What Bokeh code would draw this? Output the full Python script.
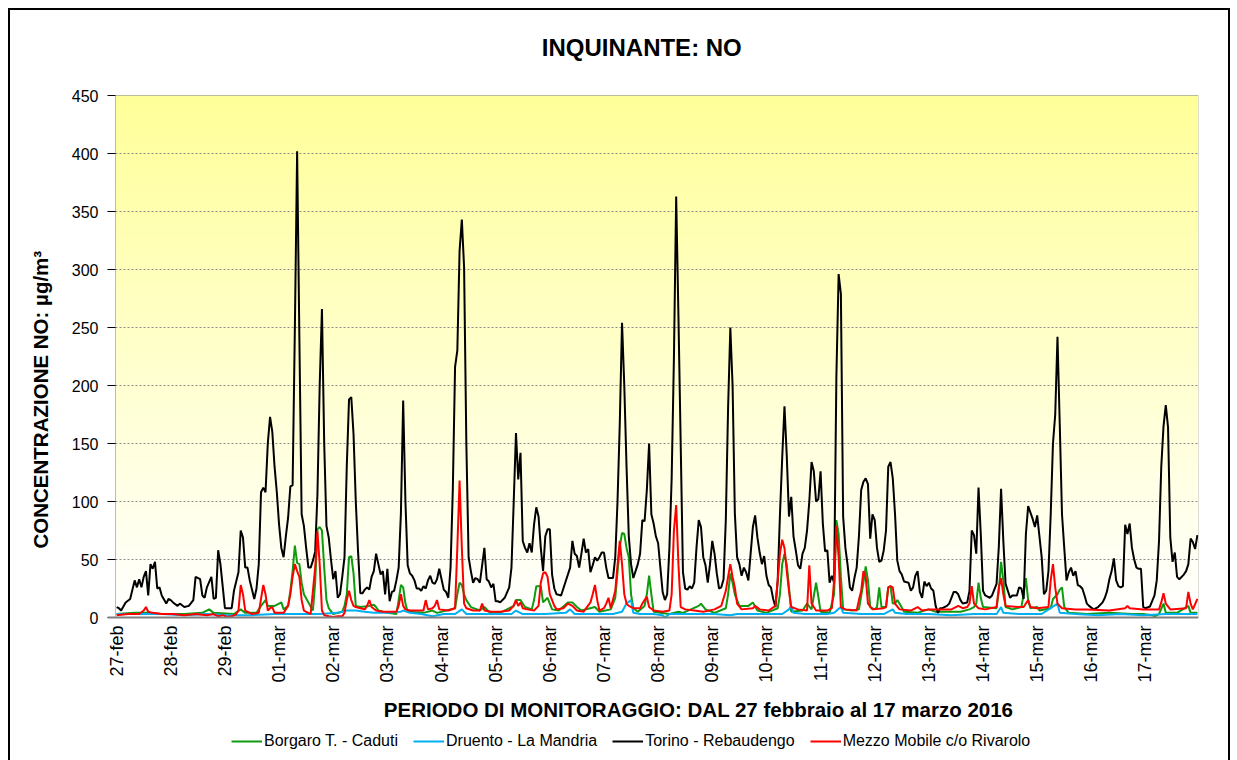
import numpy as np
from bokeh.plotting import figure
from bokeh.models import Legend, LegendItem, FixedTicker, Title, Label, Span, BoxAnnotation
from bokeh.core.properties import value
from bokeh.embed import file_html
from bokeh.resources import INLINE

# ---------------- data ----------------
day_labels = ["27-feb", "28-feb", "29-feb", "01-mar", "02-mar", "03-mar", "04-mar",
              "05-mar", "06-mar", "07-mar", "08-mar", "09-mar", "10-mar", "11-mar",
              "12-mar", "13-mar", "14-mar", "15-mar", "16-mar", "17-mar"]
hours_per_day = 24
n_hours = 480
y_ticks = [0, 50, 100, 150, 200, 250, 300, 350, 400, 450]

torino_h = [0,1,2,4,6,8,9,10,11,12,13,14,15,16,17,18,19,20,22,23,24,25,27,28,30,32,34,35,37,38,39,40,42,43,44,45,46,48,50,51,52,54,55,56,57,58,59,61,62,63,64,65,66,67,68,69,70,71,72,73,74,75,76,77,78,79,80,81,82,83,84,85,86,87,88,89,90,91,92,93,94,95,96,97,98,99,100,101,102,103,104,105,106,107,108,109,110,111,112,113,114,115,116,117,118,119,120,121,122,123,124,125,126,127,128,129,130,131,132,133,134,135,136,137,138,139,140,141,142,143,144,145,146,147,148,149,150,151,152,153,154,155,156,157,158,159,160,161,162,163,164,165,166,167,168,169,170,172,174,175,176,177,178,179,180,181,182,183,184,185,186,187,188,189,190,191,192,193,194,195,197,199,201,202,203,204,205,206,207,208,209,210,211,212,213,214,215,216,217,218,220,221,222,223,224,225,226,227,228,229,230,231,232,233,234,235,236,237,238,239,240,241,242,243,244,245,246,247,248,249,250,251,252,253,254,255,256,257,258,259,260,261,262,263,264,265,266,267,268,269,270,271,272,273,274,275,276,277,278,279,280,281,282,283,284,285,286,287,288,289,290,291,292,293,294,295,296,297,298,299,300,301,302,303,304,305,306,307,308,309,310,311,312,313,314,315,316,317,318,319,320,321,322,323,324,325,326,327,328,329,330,331,332,333,334,335,336,337,338,339,340,341,342,343,344,345,346,347,348,349,351,352,353,354,355,356,357,358,359,360,361,362,363,364,365,366,368,369,370,371,372,373,374,375,377,378,379,380,381,382,383,384,385,387,388,390,391,392,393,394,396,397,399,400,401,402,403,404,406,407,408,410,411,412,413,414,415,416,417,418,419,420,421,422,423,424,425,426,427,428,429,430,431,433,435,437,438,439,440,441,442,443,444,445,446,447,448,449,450,451,452,453,454,455,456,458,460,461,462,463,464,465,466,467,468,469,470,471,473,474,475,476,477,478,479]
torino_v = [9,8,6,13,16,32,26,33,26,35,40,19,46,42,48,25,26,19,12,16,15,13,10,12,9,10,15,35,33,19,17,26,35,16,17,58,46,8,8,8,23,39,75,69,43,43,32,16,25,46,108,112,108,150,173,160,130,108,80,60,52,70,86,113,114,250,402,240,89,79,60,43,43,49,57,106,200,266,150,79,69,50,33,40,17,20,35,52,130,188,190,158,100,57,21,21,24,26,24,35,40,55,46,37,40,20,42,14,22,23,32,43,90,187,100,45,38,36,32,25,25,23,27,25,32,36,30,29,33,42,33,24,22,17,43,110,216,230,316,343,302,150,52,40,30,34,33,30,45,60,33,31,26,29,14,14,13,17,26,43,100,159,119,142,66,60,56,64,56,80,95,87,60,40,70,76,76,37,25,20,19,31,43,66,55,53,43,55,68,56,59,39,45,52,49,52,56,56,43,34,34,52,100,167,254,200,130,70,46,34,40,46,55,84,83,110,150,89,81,70,64,43,22,15,20,60,120,224,363,260,150,39,25,24,27,25,30,60,84,78,52,45,30,46,66,55,38,25,26,33,84,180,250,200,90,52,46,36,43,39,32,55,78,88,69,56,46,53,36,28,26,16,9,32,89,138,182,140,87,104,70,58,45,42,55,60,75,100,134,126,100,102,126,81,57,58,30,36,30,207,296,279,87,60,45,26,23,34,43,70,110,117,120,115,68,89,84,60,48,49,58,75,130,134,120,89,49,40,37,31,30,23,26,36,40,22,17,31,27,30,25,23,10,4,8,8,10,12,17,22,22,20,15,12,13,23,75,71,55,112,72,23,19,17,19,29,61,111,66,29,17,19,19,26,25,16,72,96,85,78,88,52,20,23,40,89,150,175,242,167,89,60,32,39,43,36,40,28,27,25,19,12,10,7,9,13,17,23,33,40,51,32,27,26,27,80,72,81,60,50,43,42,42,9,8,9.5,19,32,66,130,165,183,164,69,48,56,35,33,37,40,46,68,65,59,71]

borgaro_h = [0,8,13,20,30,38,41,43,52,55,57,62,64,66,67,70,72,73,74,76,77,78,79,80,81,82,83,85,87,88,89,90,91,92,93,94,96,100,101,102,103,104,105,106,108,112,114,115,116,120,124,125,126,127,128,129,136,140,142,150,151,152,153,154,155,157,161,163,165,167,171,176,177,179,181,184,185,186,188,189,191,192,193,196,200,202,204,206,212,214,219,221,223,224,225,226,227,228,229,231,234,235,236,237,238,241,245,249,251,258,259,261,265,270,271,272,273,274,275,276,280,282,284,288,293,294,295,296,297,298,299,304,305,306,308,310,311,312,316,318,319,320,321,322,326,329,331,332,333,334,336,337,338,339,341,342,343,344,345,346,347,349,355,358,360,363,370,374,378,380,381,382,383,384,390,391,392,393,394,397,401,402,403,404,405,408,409,414,415,417,418,419,420,422,430,440,450,455,459,460,462,464,465,470,475,476,479]
borgaro_v = [3,4,4,3,3,4,7,4,3,7,4,4,10,15,10,10,12,13,7,10,23,40,62,47,46,30,20,13,6,30,76,78,75,43,15,8,3,5,10,20,52,53,38,10,9,10,11,9,6,4,3,15,28,26,12,5,4,6,4,8,20,30,28,20,15,9,6,9,5,4,5,10,15,15,9,7,15,27,27,13,17,12,7,6,13,13,9,6,9,5,7,17,61,73,72,60,52,20,8,5,10,20,36,20,5,4,3,5,4,10,12,7,4,8,20,38,30,20,15,10,10,13,6,4,8,20,46,55,46,26,5,6,9,12,7,30,18,5,4,20,84,72,35,7,6,7,30,44,32,9,7,9,26,9,9,26,27,12,12,15,12,5,4,6,7,5,5,5,7,9,12,30,17,9,8,23,48,32,9,7,9,20,34,15,8,9,6,8,16,20,24,26,9,4,3,4,3,3,2,1,3,12,4,4,10,4,4]

druento_h = [0,10,20,30,40,50,60,70,80,90,98,102,106,110,114,120,126,127,130,135,140,145,150,153,155,165,175,177,180,190,199,201,203,210,220,224,226,228,229,232,238,242,243,245,255,265,272,275,285,295,298,299,300,305,315,318,321,322,330,340,344,345,350,360,370,380,390,392,393,400,410,417,418,425,435,445,455,465,479]
druento_v = [3,3,3,2,3,2,2,3,3,3,4,6,6,5,4,4,5,6,4,3,1,3,3,7,3,3,3,6,3,3,4,7,3,3,3,5,12,15,4,3,3,2,0,3,3,3,2,3,3,3,7,10,4,3,3,4,9,4,3,3,7,4,3,3,2,3,3,9,4,3,3,12,4,3,2,3,2,3,3]

rivarolo_h = [0,5,10,12,13,14,16,20,25,30,35,40,43,45,47,49,51,53,54,55,56,57,60,63,64,65,66,67,68,69,70,74,76,77,78,79,80,81,82,83,86,88,89,90,91,92,94,96,98,100,101,102,103,104,105,106,108,110,111,112,113,115,118,120,124,125,126,127,128,130,136,137,138,140,141,142,143,147,150,151,152,153,154,155,158,161,162,163,166,170,174,176,177,178,179,180,182,185,187,188,189,190,191,192,194,195,198,200,202,204,207,210,211,212,213,214,216,217,218,219,221,222,223,224,225,226,227,229,232,233,234,235,236,238,242,245,246,247,248,249,250,252,256,260,265,268,270,271,272,273,274,275,277,282,283,285,289,292,293,294,295,296,297,298,299,302,306,307,308,310,315,317,318,319,320,321,323,328,329,330,331,332,333,335,340,341,342,343,344,345,347,352,355,357,360,370,373,375,377,378,379,380,382,385,390,391,392,393,394,400,402,403,404,405,408,413,414,415,416,417,419,425,430,440,447,448,449,455,462,463,464,465,467,474,475,476,477,479]
rivarolo_v = [2,3,3,6,9,5,4,3,3,2,3,2,3,1,2,0.5,1,3,6,28,20,6,3,4,16,28,20,6,8,9,4,4,10,20,35,46,40,35,15,6,3,43,74,46,6,2,1,0.5,1,1,4,15,23,15,10,9,8,7,10,15,9,6,5,5,5,10,20,10,7,6,6,15,7,8,10,15,7,6,8,60,118,60,12,8,6,6,12,6,5,5,6,10,15,10,13,8,7,6,10,30,38,39,35,20,10,7,8,12,10,6,5,13,20,28,15,6,8,12,17,8,23,45,66,46,20,12,10,8,8,12,15,18,9,6,5,6,20,75,97,46,9,7,6,5,7,10,23,35,46,35,26,12,7,8,10,7,6,10,32,55,67,60,40,23,9,7,6,45,12,6,6,8,32,79,52,9,7,6,15,23,40,35,12,7,8,9,26,27,26,12,7,6,9,6,7,7,10,8,9,12,27,12,8,7,9,26,34,20,10,9,9,12,15,9,8,9,32,46,26,12,8,7,7,6,8,10,8,7,7,13,21,12,7,8,22,12,7,16]

# ---------------- geometry (pixels) ----------------
FONT = "Liberation Sans"
plot_w_px, plot_h_px = 1083, 522     # size of the data area
top_px, bottom_px = 85, 143
left_extra_px = 8                    # room so the first day label is not cut
ppu = plot_h_px / 450.0              # pixels per unit on y
ppx = plot_w_px / float(n_hours)     # pixels per hour on x
y_lo = -bottom_px / ppu
y_hi = 450 + top_px / ppu
x_lo = -0.5 - left_extra_px / ppx

# the frame covers the whole canvas height so that texts below / above the
# data area are drawn inside it
p = figure(frame_width=plot_w_px + left_extra_px, frame_height=top_px + plot_h_px + bottom_px,
           output_backend="svg", toolbar_location=None, title=None,
           x_range=(x_lo, n_hours - 0.5), y_range=(y_lo, y_hi),
           x_axis_location=None,
           min_border_left=105 - left_extra_px, min_border_right=30,
           min_border_top=0, min_border_bottom=0,
           background_fill_color="white", border_fill_color="white")
p.styles = {"border-top": "2px solid #000", "border-left": "2px solid #000",
            "border-right": "2px solid #000", "margin-left": "8px", "margin-top": "8px"}
p.outline_line_color = None
p.xgrid.grid_line_color = None

# background gradient (white at bottom to light yellow at top) in the data area
n = 256
t = np.linspace(0.0, 1.0, n)
img = np.empty((n, 1), dtype=np.uint32)
view = img.view(dtype=np.uint8).reshape((n, 1, 4))
view[:, 0, 0] = 255
view[:, 0, 1] = 255
view[:, 0, 2] = np.round(255 - t * (255 - 153)).astype(np.uint8)
view[:, 0, 3] = 255
p.image_rgba(image=[img], x=-0.5, y=0, dw=n_hours, dh=450, level="image")

p.ygrid.ticker = FixedTicker(ticks=y_ticks[1:-1])
p.ygrid.grid_line_color = "#8c8c8c"
p.ygrid.grid_line_dash = "2 2"
p.ygrid.grid_line_width = 1

p.yaxis.ticker = FixedTicker(ticks=y_ticks)
p.yaxis.bounds = (0, 450)
p.yaxis.major_label_text_font = FONT
p.yaxis.major_label_text_font_size = "16px"
p.yaxis.major_label_text_color = "black"
p.yaxis.major_tick_out = 0
p.yaxis.major_tick_in = left_extra_px
p.yaxis.major_tick_line_color = "black"
p.yaxis.minor_tick_line_color = None
p.yaxis.axis_line_color = None
p.yaxis.major_label_standoff = 9

# border of the data area (its left side is the value axis line) and category axis line
p.add_layout(BoxAnnotation(left=-0.5, right=n_hours - 0.5, bottom=0, top=450,
                           fill_color=None, line_color="#222222", line_width=1))
p.add_layout(Span(location=0, dimension="width", line_color="#7f7f7f", line_width=2))

r_g = p.line(borgaro_h, borgaro_v, line_color="#109a10", line_width=2)
r_b = p.line(druento_h, druento_v, line_color="#00b0f0", line_width=2)
r_k = p.line(torino_h, torino_v, line_color="black", line_width=2)
r_r = p.line(rivarolo_h, rivarolo_v, line_color="#ff0000", line_width=2)

# day labels of the category axis (vertical, reading upwards)
tick_pos = [i * hours_per_day for i in range(len(day_labels))]
p.text(x=tick_pos, y=[-8 / ppu] * len(tick_pos), text=day_labels, angle=np.pi / 2,
       text_align="right", text_baseline="middle", text_font=value(FONT),
       text_font_size="18px", text_color="black")

# ---------------- texts ----------------
def px_to_x(px):
    return (px - 114.7) / ppx - 0.5

def py_to_y(py):
    return (617.0 - py) / ppu

p.add_layout(Label(x=px_to_x(541), y=py_to_y(47), text="INQUINANTE: NO",
                   text_font=FONT, text_font_size="24px", text_font_style="bold",
                   text_align="left", text_baseline="middle", text_color="black"))
p.add_layout(Label(x=px_to_x(383), y=py_to_y(709),
                   text="PERIODO DI MONITORAGGIO:  DAL 27 febbraio al 17 marzo 2016",
                   text_font=FONT, text_font_size="20.5px", text_font_style="bold",
                   text_align="left", text_baseline="middle", text_color="black"))

ylab = Title(text="CONCENTRAZIONE NO:  \u00b5g/m\u00b3", align="left", offset=212,
             vertical_align="top", text_font=FONT, text_font_size="20.5px",
             text_font_style="bold", text_color="black", standoff=30)
p.add_layout(ylab, "left")

legend = Legend(items=[LegendItem(label="Borgaro T. - Caduti", renderers=[r_g]),
                       LegendItem(label="Druento - La Mandria", renderers=[r_b]),
                       LegendItem(label="Torino - Rebaudengo", renderers=[r_k]),
                       LegendItem(label="Mezzo Mobile c/o Rivarolo", renderers=[r_r])],
                orientation="horizontal", location=(116 + left_extra_px, 10))
legend.label_text_font = FONT
legend.label_text_font_size = "16px"
legend.label_text_color = "black"
legend.glyph_width = 31
legend.glyph_height = 16
legend.label_standoff = 2
legend.spacing = 15
legend.padding = 0
legend.margin = 0
legend.border_line_color = None
legend.background_fill_alpha = 0
p.add_layout(legend)

open("out.html", "w").write(file_html(p, INLINE))
